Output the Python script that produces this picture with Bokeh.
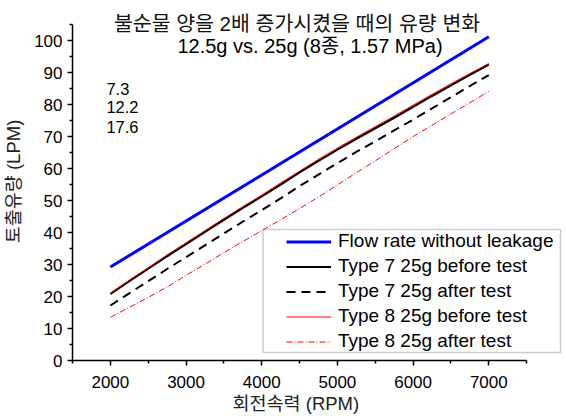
from bokeh.plotting import figure
from bokeh.models import (Range1d, FixedTicker, Legend, LegendItem, Label,
                          BoxAnnotation, Title)
from bokeh.embed import file_html
from bokeh.resources import INLINE

# ---------------- data ----------------
rpm = [2000, 2250, 2500, 2750, 3000, 3250, 3500, 3750, 4000, 4250, 4500,
       4750, 5000, 5250, 5500, 5750, 6000, 6250, 6500, 6750, 7000]

ideal_rpm = [2000, 7000]
ideal_flow = [29.2, 101.2]

type7_before = [20.8, 24.8, 28.7, 32.6, 36.4, 40.2, 44.0, 47.7, 51.3, 55.0, 58.8,
                62.4, 65.9, 69.3, 72.6, 75.9, 79.3, 82.7, 86.0, 89.3, 92.5]
type7_after = [17.2, 21.0, 24.8, 28.6, 32.3, 36.0, 39.7, 43.4, 47.0, 50.7, 54.5,
               58.1, 61.7, 65.2, 68.5, 71.9, 75.3, 78.8, 82.3, 85.8, 89.2]
type8_before = [21.0, 25.1, 29.0, 33.0, 36.8, 40.6, 44.4, 48.1, 51.7, 55.5, 59.2,
                62.9, 66.4, 69.8, 73.1, 76.4, 79.8, 83.2, 86.5, 89.7, 92.8]
type8_after = [13.5, 16.6, 19.7, 23.0, 26.6, 30.1, 33.7, 37.2, 40.6, 44.0, 47.5,
               51.1, 54.9, 58.7, 62.4, 66.2, 70.0, 73.5, 77.1, 80.6, 84.1]

series_labels = ["Flow rate without leakage", "Type 7 25g before test",
                 "Type 7 25g after test", "Type 8 25g before test",
                 "Type 8 25g after test"]

x_major = [2000, 3000, 4000, 5000, 6000, 7000]
x_minor = [1500, 2500, 3500, 4500, 5500, 6500, 7500]
y_major = [0, 10, 20, 30, 40, 50, 60, 70, 80, 90, 100]
y_minor = [5, 15, 25, 35, 45, 55, 65, 75, 85, 95, 105]

title1 = "불순물 양을 2배 증가시켰을 때의 유량 변화"
title2 = "12.5g vs. 25g (8종, 1.57 MPa)"
notes = ["7.3", "12.2", "17.6"]
x_title = "회전속력 (RPM)"
y_title = "토출유량 (LPM)"

FONT = "'Liberation Sans', 'Noto Sans CJK KR', sans-serif"

# ---------------- figure ----------------
# the plotting area is wider/taller than the drawn axes so that the title
# and the legend box (which sit outside the axes in the original) are not clipped
p = figure(width=566, height=420, output_backend="svg", toolbar_location=None,
           x_range=Range1d(1500, 8000), y_range=Range1d(0, 111.9),
           min_border_left=71, min_border_right=2, min_border_top=2,
           min_border_bottom=60)
p.outline_line_color = None
p.grid.visible = False
p.background_fill_color = "white"
p.border_fill_color = "white"

for ax in (p.xaxis[0], p.yaxis[0]):
    ax.axis_line_width = 1.5
    ax.axis_line_color = "black"
    ax.major_tick_line_color = "black"
    ax.minor_tick_line_color = "black"
    ax.major_tick_line_width = 1.5
    ax.minor_tick_line_width = 1.5
    ax.major_tick_out = 5
    ax.major_tick_in = 0
    ax.minor_tick_out = 3
    ax.minor_tick_in = 0
    ax.major_label_text_font = FONT
    ax.major_label_text_font_size = "17px"
    ax.major_label_text_color = "black"
    ax.axis_label_text_font = FONT
    ax.axis_label_text_font_size = "18.5px"
    ax.axis_label_text_font_style = "normal"
    ax.axis_label_text_color = "#222222"

p.xaxis.bounds = (1500, 7500)
p.yaxis.bounds = (0, 105)
p.xaxis.ticker = FixedTicker(ticks=x_major, minor_ticks=x_minor)
p.yaxis.ticker = FixedTicker(ticks=y_major, minor_ticks=y_minor)
p.yaxis.axis_label = y_title
p.xaxis.major_label_standoff = 10
p.yaxis.major_label_standoff = 5
p.yaxis.axis_label_standoff = 7

# x-axis title, placed under the axis (centred on the drawn axis, not the wider area)
xt = Title(text=x_title, align="left", offset=160, text_font=FONT,
           text_font_size="18.5px", text_font_style="normal",
           text_color="#222222", standoff=0)
p.add_layout(xt, "below")

# ---------------- series ----------------
r0 = p.line(ideal_rpm, ideal_flow, line_color="#0000FF", line_width=3)
r1 = p.line(rpm, type7_before, line_color="black", line_width=2.2)
r2 = p.line(rpm, type7_after, line_color="black", line_width=2, line_dash="9 6")
r3 = p.line(rpm, type8_before, line_color="#FF0000", line_width=1)
r4 = p.line(rpm, type8_after, line_color="#FF0000", line_width=1, line_dash="6 2 1 2")

# ---------------- legend ----------------
frame_box = BoxAnnotation(left=4018, right=7947, bottom=2.53, top=40.96,
                          fill_color="white", fill_alpha=1.0,
                          line_color="#555555", line_width=1.5, level="underlay")
p.add_layout(frame_box)

legend = Legend(items=[LegendItem(label=l, renderers=[r]) for l, r in
                       zip(series_labels, [r0, r1, r2, r3, r4])],
                location=(214, 8), orientation="vertical",
                label_text_font=FONT, label_text_font_size="19px",
                label_text_color="black", glyph_width=45, glyph_height=21,
                label_height=21, spacing=3, padding=0, margin=0,
                label_standoff=7, border_line_alpha=0,
                background_fill_alpha=0)
p.add_layout(legend, "center")

# ---------------- texts ----------------
p.add_layout(Label(x=4466, y=105.3, text=title1, text_align="center",
                   text_baseline="middle", text_font=FONT,
                   text_font_size="20.5px", text_color="#111111"))
p.add_layout(Label(x=4638, y=98.15, text=title2, text_align="center",
                   text_baseline="middle", text_font=FONT,
                   text_font_size="20px", text_color="black"))
for t, yv in zip(notes, [85.0, 79.09, 72.84]):
    p.add_layout(Label(x=1948, y=yv, text=t, text_align="left",
                       text_baseline="middle", text_font=FONT,
                       text_font_size="16.5px", text_color="black"))

open("out.html", "w").write(file_html(p, INLINE))
